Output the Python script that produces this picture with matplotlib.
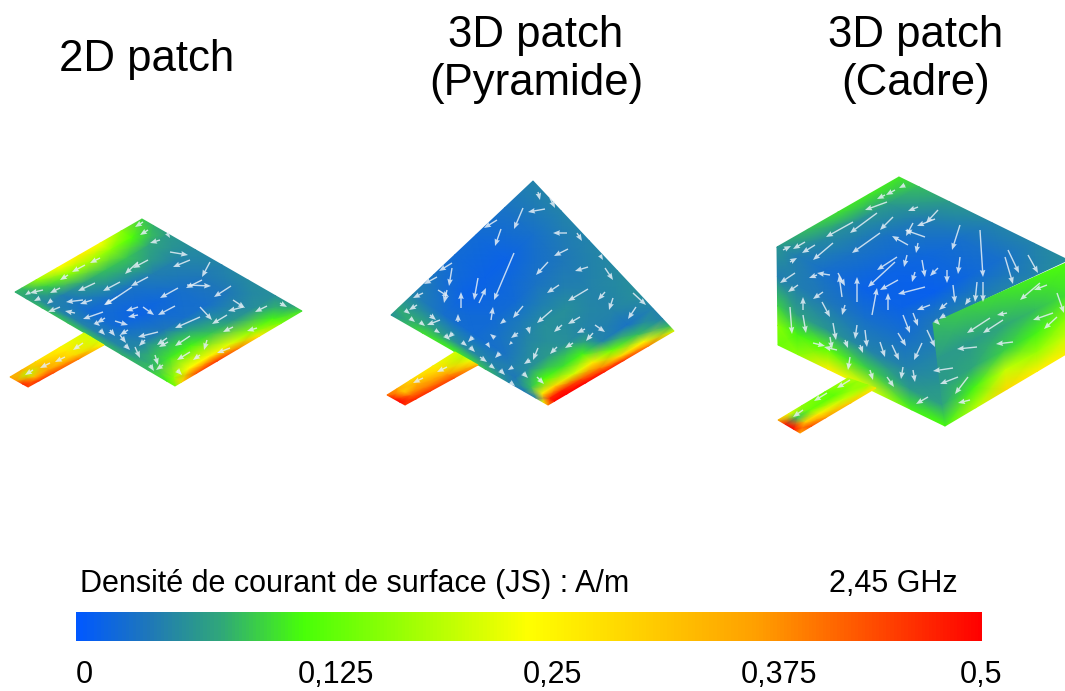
import numpy as np
import matplotlib
matplotlib.use("Agg")
import matplotlib.pyplot as plt
from matplotlib.colors import LinearSegmentedColormap

plt.rcParams['font.family'] = ['Liberation Sans', 'DejaVu Sans']

# colour scale of the JS field
scale_stops = [0.0, 0.08, 0.16, 0.25, 0.5, 0.75, 1.0]
scale_colors = ['#0058ff', '#1f78b8', '#30a878', '#48ff08', '#ffff00', '#ffa000', '#ff0000']
vmax = 0.5

tick_labels = ['0', '0,125', '0,25', '0,375', '0,5']
tick_x = [84, 336, 552, 779, 981]

# surface current values, rows go along v and columns along u
flat_u = [0, .07, 1/6, 2/6, 3/6, 4/6, 5/6, .95, 1]
flat_v = [0, 1/6, 2/6, 3/6, 4/6, 5/6, .95, 1]
flat_js = [[.10, .085, .07, .055, .05, .055, .06, .075, .11],
           [.17, .13, .08, .05, .04, .04, .06, .12, .16],
           [.25, .17, .095, .045, .03, .03, .07, .17, .28],
           [.27, .19, .09, .035, .02, .03, .095, .23, .40],
           [.25, .17, .075, .03, .015, .04, .12, .26, .46],
           [.18, .10, .045, .025, .025, .05, .115, .25, .44],
           [.09, .07, .05, .05, .05, .055, .09, .17, .30],
           [.085, .08, .09, .095, .09, .085, .09, .12, .16]]

pyr_u = [0, .2, .4, .6, .75, .85, .92, .97, 1]
pyr_v = [0, .2, .4, .55, .7, .85, .95, 1]
pyr_js = [[.05, .05, .05, .055, .06, .05, .05, .09, .22],
          [.035, .03, .04, .05, .05, .035, .09, .26, .40],
          [.025, .015, .035, .06, .05, .05, .15, .30, .46],
          [.025, .015, .025, .06, .06, .12, .27, .40, .48],
          [.035, .015, .025, .05, .07, .11, .22, .44, .50],
          [.05, .03, .025, .035, .06, .13, .30, .48, .50],
          [.08, .08, .06, .05, .04, .09, .27, .47, .50],
          [.06, .11, .12, .09, .05, .04, .05, .24, .40]]

roof_u = [0, .12, .3, .55, .8, 1]
roof_v = [0, .25, .5, .75, 1]
roof_js = [[.115, .09, .07, .05, .05, .06],
           [.115, .07, .045, .03, .03, .05],
           [.11, .06, .035, .02, .02, .05],
           [.09, .055, .035, .015, .01, .05],
           [.065, .045, .03, .015, .015, .04]]

wall_u = [0, .12, .3, .55, .8, 1]
wall_v = [0, .3, .6, .8, 1]
wall_js = [[.065, .045, .03, .015, .015, .04],
           [.045, .045, .04, .03, .03, .05],
           [.10, .075, .065, .05, .05, .065],
           [.165, .12, .14, .10, .07, .075],
           [.15, .17, .27, .23, .12, .125]]

side_u = [0, .25, .5, .75, 1]
side_v = [0, .35, .6, .8, 1]
side_js = [[.09, .10, .11, .12, .13],
           [.07, .07, .08, .09, .11],
           [.07, .08, .10, .12, .17],
           [.08, .12, .21, .18, .21],
           [.12, .20, .30, .27, .27]]

line_s = [0, .33, .66, .85, 1]
line_t = [0, .35, .7, 1]
flat_line_js = [[.22, .22, .22, .26],
                [.26, .28, .30, .40],
                [.30, .34, .37, .44],
                [.36, .20, .34, .46],
                [.36, .38, .47, .45]]
pyr_line_js = [[.22, .20, .24, .34],
               [.27, .30, .38, .44],
               [.30, .36, .40, .46],
               [.36, .32, .42, .47],
               [.42, .48, .50, .46]]
box_line_js = [[.20, .18, .18, .28],
               [.15, .14, .21, .32],
               [.17, .15, .27, .38],
               [.24, .09, .32, .44],
               [.36, .49, .50, .36]]

# current arrows: x, y, dx, dy in picture pixels
flat_arrows = [(190,260,-17,7),(210,262,-8,15),(202,280,-16,8),(187,285,24,1),(231,286,-17,11),
               (178,288,-18,10),(148,277,-17,9),(148,260,-15,8),(138,262,-13,12),(120,282,-17,9),
               (95,283,-17,8),(132,287,-27,18),(175,306,-17,9),(200,307,12,13),(227,315,-15,9),
               (200,317,-25,11),(190,336,-15,10),(190,352,-13,8),(243,307,-15,4),(233,300,12,8),
               (267,306,-12,6),(138,307,-12,4),(143,307,11,8),(138,315,-10,2),(115,321,13,4),
               (158,332,-20,5),(167,338,-10,7),(135,347,5,11),(83,300,-17,2),(60,288,-10,5),
               (43,290,-13,3),(103,312,-20,7),(92,300,-12,4),(60,307,-12,5),(75,313,-10,-2),
               (105,318,-8,5),(117,297,-13,8),(100,258,-10,5),(85,265,-13,7),(68,275,-8,5),
               (143,222,-8,5),(148,230,-8,5),(160,240,-10,3),(167,233,3,5),(170,252,18,3),
               (65,357,-10,5),(50,363,-10,5),(83,343,-10,7),(33,370,-8,5),(280,303,7,4),
               (233,327,-10,5),(257,328,-10,3),(207,340,-3,10),(230,348,-13,5),(200,355,-7,5),
               (177,370,5,5),(163,365,-7,5),(155,355,3,10),(168,342,-9,5),(128,330,-8,5),
               (120,335,6,8),(145,340,-6,6),(110,330,5,6),(100,330,5,5),(150,365,4,6),
               (125,345,5,5),(40,298,-6,3),(30,292,-5,3),(52,300,-5,4),(95,322,5,4)]

pyr_arrows = [(545,209,-17,3),(523,208,-9,21),(501,229,-6,17),(514,253,-20,47),(567,233,-14,0),
              (568,249,-14,7),(548,262,-12,13),(588,267,-13,4),(559,285,-12,8),(588,289,-20,12),
              (452,268,-3,18),(478,278,-4,22),(479,303,7,-15),(461,308,0,-16),(438,290,11,7),
              (447,290,-3,13),(552,310,-15,13),(523,306,-10,12),(491,320,2,-13),(458,322,0,-8),
              (605,268,8,12),(605,292,-7,8),(613,298,-4,12),(636,307,-8,12),(580,317,-12,7),
              (562,325,-8,7),(585,329,-8,4),(595,325,10,7),(593,333,-7,8),(573,343,-8,5),
              (557,347,-7,7),(538,348,-5,12),(505,320,-5,4),(528,327,2,7),(518,333,-7,5),
              (512,342,-3,3),(440,320,-13,5),(417,305,-8,5),(423,293,-10,5),(497,220,-13,8),
              (452,263,-13,8),(437,277,-13,7),(550,198,5,10),(538,192,2,8),(577,233,5,8),
              (600,255,3,5),(633,293,13,12),(487,343,3,5),(500,353,-5,5),(473,337,-5,5),
              (453,333,-5,5),(513,367,-5,3),(523,373,5,5),(537,377,7,7),(480,357,7,5),
              (470,347,5,5),(447,367,-10,5),(423,378,-10,5),(430,315,6,5),(445,335,5,5),
              (500,370,5,5),(530,360,-6,4),(410,318,5,4),(495,338,-5,-4),(405,310,5,4),
              (420,322,5,4),(435,330,5,3),(462,342,5,4),(490,365,5,4),(510,382,5,4)]

box_arrows = [(918,207,-10,4),(938,210,-12,13),(935,219,-18,7),(893,217,-13,13),(887,202,-22,8),
              (877,213,-27,20),(853,222,-27,15),(880,233,-28,20),(960,225,-8,25),(980,230,3,47),
              (1005,257,8,27),(1008,250,11,23),(1028,255,10,18),(925,237,-20,-7),(913,223,-7,13),
              (908,245,-16,-9),(897,257,-20,13),(895,262,-27,25),(907,255,-3,12),(918,243,-2,10),
              (922,260,3,17),(938,268,-8,8),(960,257,-2,17),(947,270,0,13),(915,272,-3,10),
              (898,280,-18,10),(925,287,-27,7),(953,285,2,18),(977,282,-2,20),(983,282,0,20),
              (930,305,-13,5),(947,303,-8,7),(970,298,-5,7),(838,273,7,13),(830,275,-13,-2),
              (817,275,-8,3),(798,285,-10,7),(795,273,-15,10),(857,302,0,-25),(872,315,5,-27),
              (888,310,0,-17),(842,297,-3,-22),(823,292,-10,7),(803,310,0,-13),(822,302,8,15),
              (845,305,-3,10),(790,307,2,27),(803,315,3,18),(833,323,3,17),(857,325,-2,14),
              (903,315,7,18),(898,333,8,13),(892,345,7,15),(927,330,8,17),(913,313,5,13),
              (880,342,5,15),(865,330,2,17),(922,343,-8,17),(953,368,-20,3),(958,377,-18,7),
              (968,377,-13,17),(903,367,-2,12),(913,370,2,12),(928,397,-12,7),(1007,313,-10,2),
              (1003,320,-20,13),(990,318,-23,15),(1013,342,-17,2),(977,347,-20,2),(1040,283,-20,17),
              (1047,285,-13,5),(1057,293,7,20),(1053,313,-20,7),(1057,317,-13,12),(970,400,-12,3),
              (850,380,-13,8),(827,393,-13,8),(803,410,-10,7),(815,245,-13,8),(833,243,-20,17),
              (805,242,-12,7),(850,357,-2,13),(837,350,-13,-3),(870,370,3,10),(887,377,7,10),
              (830,337,2,12),(813,343,12,3),(895,190,-9,5),(885,195,-8,4),(905,185,-6,3),
              (783,250,8,-4),(790,262,7,-4),(860,345,3,8),(845,340,3,8),(935,320,5,5),(945,315,-6,4)]

js_cmap = LinearSegmentedColormap.from_list('js', list(zip(scale_stops, scale_colors)))


def draw_surface(ax, corners, u, v, js):
    # corners are first, u end, v end, far end of the quad
    p0, p1, p2, p3 = [np.array(c, dtype=float) for c in corners]
    uu, vv = np.meshgrid(u, v)
    X = (1-uu)*(1-vv)*p0[0] + uu*(1-vv)*p1[0] + (1-uu)*vv*p2[0] + uu*vv*p3[0]
    Y = (1-uu)*(1-vv)*p0[1] + uu*(1-vv)*p1[1] + (1-uu)*vv*p2[1] + uu*vv*p3[1]
    ax.pcolormesh(X, Y, np.array(js), shading='gouraud', cmap=js_cmap, vmin=0, vmax=vmax,
                  rasterized=True)


def draw_arrows(ax, arrows):
    x, y, dx, dy = zip(*arrows)
    ax.quiver(x, y, dx, dy, angles='xy', scale_units='xy', scale=1, units='dots', width=1.4,
              headwidth=4, headlength=5, headaxislength=4.5, minlength=0.5,
              color='#e6eff7', alpha=0.85, zorder=3)


fig = plt.figure(figsize=(10.65, 6.91), dpi=100)
ax = fig.add_axes([0, 0, 1, 1])
ax.set_xlim(0, 1065)
ax.set_ylim(691, 0)
ax.axis('off')

# 2D patch
draw_surface(ax, [(142, 219), (302, 311), (15, 292), (175, 386)], flat_u, flat_v, flat_js)
draw_surface(ax, [(84, 333), (104, 345), (10, 377), (28, 387)], line_t, line_s, flat_line_js)
draw_arrows(ax, flat_arrows)

# pyramid
draw_surface(ax, [(533, 181), (674, 331), (391, 315), (548, 405)], pyr_u, pyr_v, pyr_js)
draw_surface(ax, [(455, 352), (478, 365), (387, 395), (405, 405)], line_t, line_s, pyr_line_js)
draw_arrows(ax, pyr_arrows)

# box frame
draw_surface(ax, [(899, 177), (1068, 260), (777, 247), (933, 323)], roof_u, roof_v, roof_js)
draw_surface(ax, [(777, 247), (933, 323), (778, 345), (945, 426)], wall_u, wall_v, wall_js)
draw_surface(ax, [(933, 323), (1068, 262), (945, 426), (1068, 353)], side_u, side_v, side_js)
draw_surface(ax, [(848, 378), (876, 388), (778, 420), (800, 433)], line_t, line_s, box_line_js)
draw_arrows(ax, box_arrows)

# titles, placed on their baselines
ax.text(147, 71, '2D patch', fontsize=31.5, ha='center', va='baseline', color='black')
ax.text(536, 47, '3D patch', fontsize=31.5, ha='center', va='baseline', color='black')
ax.text(536, 95, '(Pyramide)', fontsize=31.5, ha='center', va='baseline', color='black')
ax.text(916, 47, '3D patch', fontsize=31.5, ha='center', va='baseline', color='black')
ax.text(916, 95, '(Cadre)', fontsize=31.5, ha='center', va='baseline', color='black')

# colour bar
cax = fig.add_axes([76/1065, 1-641/691, 906/1065, 29/691])
sm = plt.cm.ScalarMappable(cmap=js_cmap, norm=plt.Normalize(0, vmax))
cb = fig.colorbar(sm, cax=cax, orientation='horizontal')
cb.outline.set_visible(False)
cb.set_ticks([])

ax.text(80, 592, 'Densité de courant de surface (JS) : A/m', fontsize=22, ha='left', va='baseline',
        color='black')
ax.text(893, 592, '2,45 GHz', fontsize=22, ha='center', va='baseline', color='black')
for tx, lab in zip(tick_x, tick_labels):
    ax.text(tx, 683, lab, fontsize=22, ha='center', va='baseline', color='black')

fig.savefig('out.png', dpi=100)
